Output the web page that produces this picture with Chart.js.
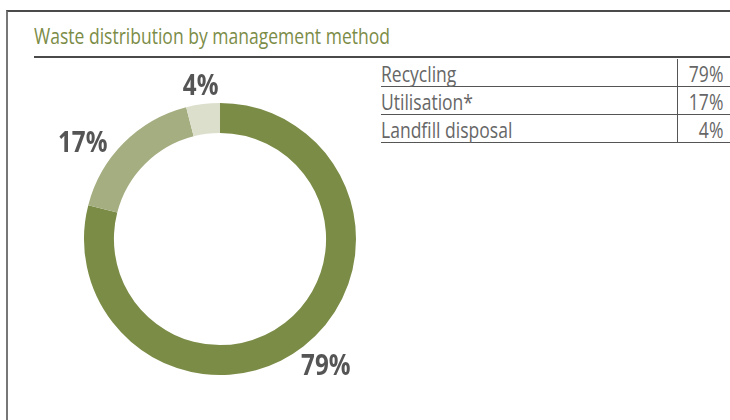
<!DOCTYPE html>
<html>
<head>
<meta charset="utf-8">
<script src="https://cdn.jsdelivr.net/npm/chart.js@4/dist/chart.umd.min.js"></script>
<style>
  html, body { margin: 0; padding: 0; background: #fff; }
  #wrap { position: relative; width: 730px; height: 420px; overflow: hidden;
          font-family: "Open Sans", "Liberation Sans", sans-serif; }
  #frame { position: absolute; left: 6px; top: 10px; width: 740px; height: 420px;
           border-top: 2px solid #4a4a4a; border-left: 2px solid #777; }
  .narrow { display: inline-block; white-space: nowrap; transform-origin: left center; }
  .narrow.r { transform-origin: right center; }
  #title { position: absolute; left: 34px; top: 22px; font-size: 21px; color: #7b8c47;
           white-space: nowrap; line-height: 28px; }
  #rule { position: absolute; left: 34px; right: 0; top: 56px; height: 0; border-top: 2px solid #4a4a4a; }
  #legend { position: absolute; left: 381px; top: 59px; width: 349px; border-collapse: collapse; }
  #legend td { font-size: 21px; color: #666; padding: 0; height: 27px; line-height: 24px;
               border-bottom: 1px solid #555; vertical-align: bottom; white-space: nowrap; }
  #legend td.v { text-align: right; padding-right: 7px; border-left: 1px solid #555; width: 45px; }
  canvas { position: absolute; left: 0; top: 0; }
</style>
</head>
<body>
<div id="wrap">
  <div id="frame"></div>
  <div id="title"><span class="narrow" id="titleText">Waste distribution by management method</span></div>
  <div id="rule"></div>
  <table id="legend"></table>
  <canvas id="wasteChart" width="730" height="420"></canvas>
</div>
<script>
// waste shares by management method, %
const methods = ['Recycling', 'Utilisation*', 'Landfill disposal'];
const shares = [79, 17, 4];
const colors = ['#7b8c47', '#a4ae81', '#dcdfcc'];

// condensed look: squeeze the title to its column width, reuse the factor everywhere
const titleText = document.getElementById('titleText');
const squeeze = 356 / titleText.getBoundingClientRect().width;
titleText.style.transform = 'scaleX(' + squeeze + ')';

// table next to the ring
const table = document.getElementById('legend');
methods.forEach(function (m, i) {
    const tr = document.createElement('tr');
    tr.innerHTML = '<td><span class="narrow">' + m + '</span></td>' +
        '<td class="v"><span class="narrow r">' + shares[i] + '%</span></td>';
    table.appendChild(tr);
});
table.querySelectorAll('.narrow').forEach(function (s) {
    s.style.transform = 'scaleX(' + squeeze + ')';
});

// percentage labels outside the ring
const outsideLabels = {
    id: 'outsideLabels',
    afterDatasetsDraw(chart, args, opts) {
        const ctx = chart.ctx;
        const meta = chart.getDatasetMeta(0);
        ctx.save();
        ctx.font = 'bold 29px "Open Sans", "Liberation Sans", sans-serif';
        ctx.fillStyle = '#555';
        ctx.textAlign = 'center';
        ctx.textBaseline = 'middle';
        meta.data.forEach(function (arc, i) {
            const p = arc.getProps(['x', 'y', 'startAngle', 'endAngle', 'outerRadius'], true);
            const a = (p.startAngle + p.endAngle) / 2 + (opts.shift[i] || 0) * Math.PI / 180;
            const text = chart.data.datasets[0].data[i] + '%';
            const w = ctx.measureText(text).width * squeeze / 2;
            const h = 11;
            const d = p.outerRadius + opts.gap + Math.abs(Math.cos(a)) * w + Math.abs(Math.sin(a)) * h;
            ctx.save();
            ctx.translate(p.x + Math.cos(a) * d, p.y + Math.sin(a) * d + 1);
            ctx.scale(squeeze, 1);
            ctx.fillText(text, 0, 0);
            ctx.restore();
        });
        ctx.restore();
    }
};

let ctx = document.getElementById('wasteChart').getContext('2d');
var chart = new Chart(ctx, {
    type: 'doughnut',
    data: {
        labels: methods,
        datasets: [{
            data: shares,
            backgroundColor: colors,
            borderWidth: 0
        }]
    },
    options: {
        responsive: false,
        animation: false,
        cutout: '78%',
        layout: {
            padding: { left: 84, top: 103, right: 374, bottom: 45 }
        },
        plugins: {
            legend: { display: false },
            tooltip: { enabled: false },
            outsideLabels: { gap: 5, shift: [-2, -10, 0] }
        }
    },
    plugins: [outsideLabels]
});
</script>
</body>
</html>
